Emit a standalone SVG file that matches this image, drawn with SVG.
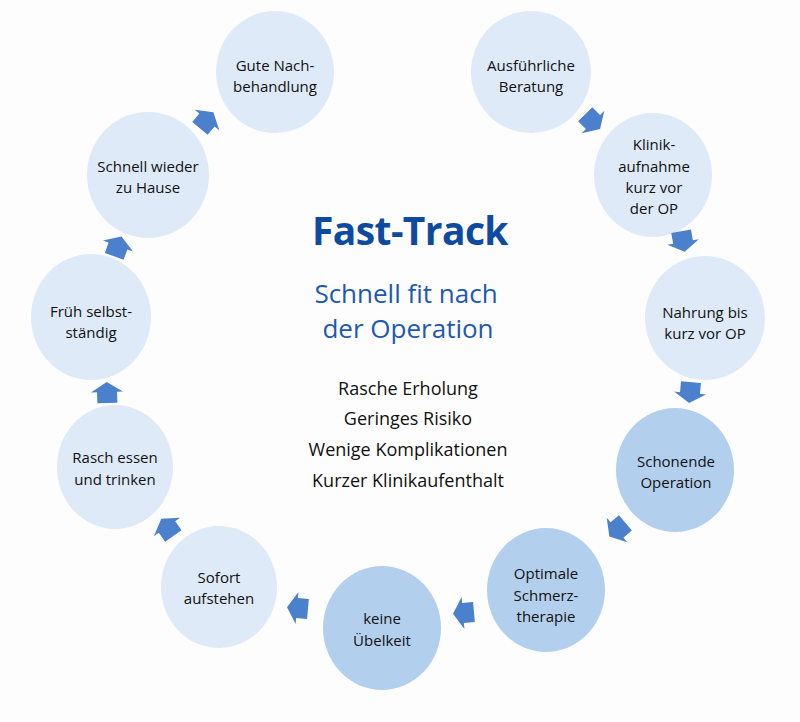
<svg xmlns="http://www.w3.org/2000/svg" width="800" height="722" viewBox="0 0 800 722">
<style>
.n{fill:#deeaf7}
.d{fill:#b3cfee}
.t{font-family:"Open Sans","Noto Sans",sans-serif;font-size:15px;fill:#111111;text-anchor:middle}
.a{fill:#4a80cc}
.c{font-family:"Open Sans","Noto Sans",sans-serif;text-anchor:middle}
</style>
<defs>
<path id="arr" d="M-11,-10 H0 V-16 L10,0 L0,16 V10 H-11 Z"/>
</defs>
<rect width="800" height="722" fill="#fdfdfd"/>
<g id="n-gute"><ellipse class="n" cx="275" cy="72" rx="59" ry="61"/><text class="t" x="275" y="71">Gute Nach-</text><text class="t" x="275" y="92">behandlung</text></g>
<g id="n-ausf"><ellipse class="n" cx="531" cy="72" rx="60" ry="61"/><text class="t" x="531" y="71">Ausführliche</text><text class="t" x="531" y="92">Beratung</text></g>
<g id="n-klinik"><ellipse class="n" cx="653" cy="175" rx="59" ry="62"/><text class="t" x="654" y="150">Klinik-</text><text class="t" x="654" y="172">aufnahme</text><text class="t" x="654" y="193">kurz vor</text><text class="t" x="654" y="214">der OP</text></g>
<g id="n-nahrung"><ellipse class="n" cx="705" cy="318" rx="60" ry="62"/><text class="t" x="705" y="318">Nahrung bis</text><text class="t" x="705" y="339">kurz vor OP</text></g>
<g id="n-schonende"><ellipse class="d" cx="675" cy="470" rx="59" ry="62"/><text class="t" x="676" y="467">Schonende</text><text class="t" x="676" y="488">Operation</text></g>
<g id="n-optimale"><ellipse class="d" cx="546" cy="590" rx="59" ry="62"/><text class="t" x="546" y="579">Optimale</text><text class="t" x="546" y="601">Schmerz-</text><text class="t" x="546" y="622">therapie</text></g>
<g id="n-keine"><ellipse class="d" cx="382" cy="628" rx="59" ry="62"/><text class="t" x="382" y="624">keine</text><text class="t" x="382" y="646">Übelkeit</text></g>
<g id="n-sofort"><ellipse class="n" cx="219" cy="587" rx="58" ry="61"/><text class="t" x="219" y="583">Sofort</text><text class="t" x="219" y="604">aufstehen</text></g>
<g id="n-rasch"><ellipse class="n" cx="115" cy="467" rx="58" ry="62"/><text class="t" x="115" y="463">Rasch essen</text><text class="t" x="115" y="485">und trinken</text></g>
<g id="n-frueh"><ellipse class="n" cx="91" cy="317" rx="60" ry="63"/><text class="t" x="91" y="317">Früh selbst-</text><text class="t" x="91" y="338">ständig</text></g>
<g id="n-schnell"><ellipse class="n" cx="148" cy="175" rx="61" ry="63"/><text class="t" x="148" y="172">Schnell wieder</text><text class="t" x="148" y="193">zu Hause</text></g>
<g id="center">
<text class="c" x="410" y="245" font-size="39" font-weight="bold" letter-spacing="-0.6" fill="#0e4a9f">Fast-Track</text>
<text class="c" x="406" y="303" font-size="26" fill="#1d58b5">Schnell fit nach</text>
<text class="c" x="408" y="338" font-size="26" fill="#1d58b5">der Operation</text>
<text class="c" x="408" y="395" font-size="18" fill="#111111">Rasche Erholung</text>
<text class="c" x="408" y="425" font-size="18" fill="#111111">Geringes Risiko</text>
<text class="c" x="408" y="456" font-size="18" fill="#111111">Wenige Komplikationen</text>
<text class="c" x="408" y="487" font-size="18" fill="#111111">Kurzer Klinikaufenthalt</text>
</g>
<g id="connectors" class="a">
<use href="#arr" transform="translate(593,122) rotate(45)"/>
<use href="#arr" transform="translate(683,242) rotate(80)"/>
<use href="#arr" transform="translate(690,393) rotate(95)"/>
<use href="#arr" transform="translate(617,530) rotate(140)"/>
<use href="#arr" transform="translate(463,613) rotate(175)"/>
<use href="#arr" transform="translate(297,608) rotate(185)"/>
<use href="#arr" transform="translate(167,527) rotate(235)"/>
<use href="#arr" transform="translate(107,392) rotate(268)"/>
<use href="#arr" transform="translate(118,246) rotate(290)"/>
<use href="#arr" transform="translate(207,120) rotate(310)"/>
</g>
</svg>
